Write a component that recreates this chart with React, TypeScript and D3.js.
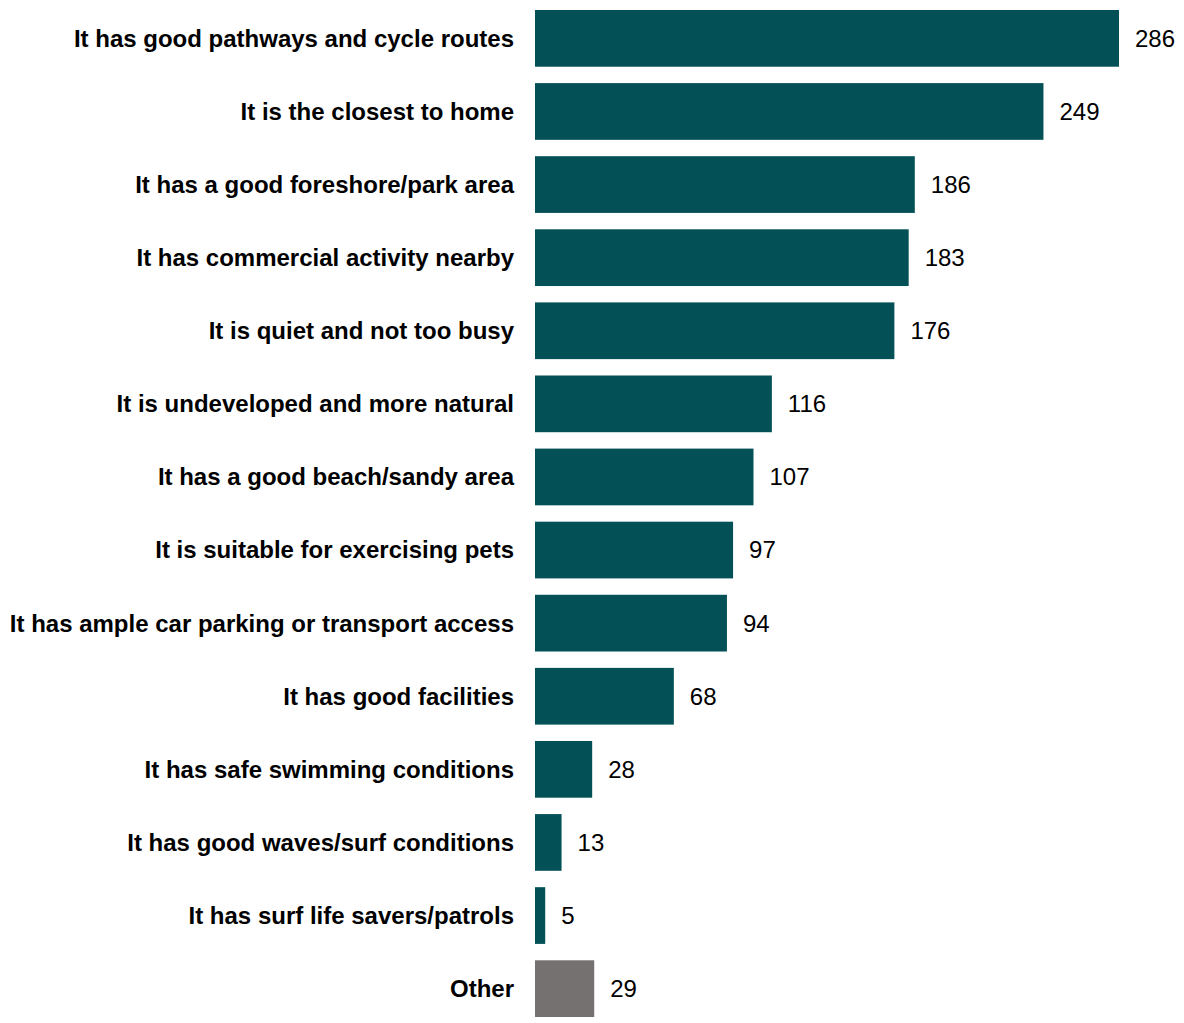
import React from "react";
import * as d3 from "d3";

const categories = [
  "It has good pathways and cycle routes",
  "It is the closest to home",
  "It has a good foreshore/park area",
  "It has commercial activity nearby",
  "It is quiet and not too busy",
  "It is undeveloped and more natural",
  "It has a good beach/sandy area",
  "It is suitable for exercising pets",
  "It has ample car parking or transport access",
  "It has good facilities",
  "It has safe swimming conditions",
  "It has good waves/surf conditions",
  "It has surf life savers/patrols",
  "Other",
];
const values = [286, 249, 186, 183, 176, 116, 107, 97, 94, 68, 28, 13, 5, 29];
const colors = ["#035157", "#767171"];

export default function App() {
  const W = 1184;
  const H = 1023;
  const x = d3.scaleLinear().domain([0, 286]).range([535, 1119]);
  const y = d3
    .scaleBand<string>()
    .domain(categories)
    .range([10, 1017])
    .paddingInner(0.224)
    .paddingOuter(0);
  const font = "Liberation Sans, Arial, sans-serif";
  return (
    <svg
      width={W}
      height={H}
      style={{ position: "absolute", left: 0, top: 0, background: "#fff" }}
    >
      {categories.map((c, i) => {
        const y0 = y(c)!;
        const bw = y.bandwidth();
        const cy = y0 + bw / 2;
        return (
          <g key={c}>
            <rect
              x={x(0)}
              y={y0}
              width={x(values[i]) - x(0)}
              height={bw}
              fill={c === "Other" ? colors[1] : colors[0]}
            />
            <text
              x={514}
              y={cy}
              dy="0.35em"
              textAnchor="end"
              style={{ fontFamily: font, fontWeight: 700, fontSize: 24 }}
              fill="#000"
            >
              {c}
            </text>
            <text
              x={x(values[i]) + 16}
              y={cy}
              dy="0.35em"
              style={{ fontFamily: font, fontSize: 24 }}
              fill="#000"
            >
              {values[i]}
            </text>
          </g>
        );
      })}
    </svg>
  );
}
